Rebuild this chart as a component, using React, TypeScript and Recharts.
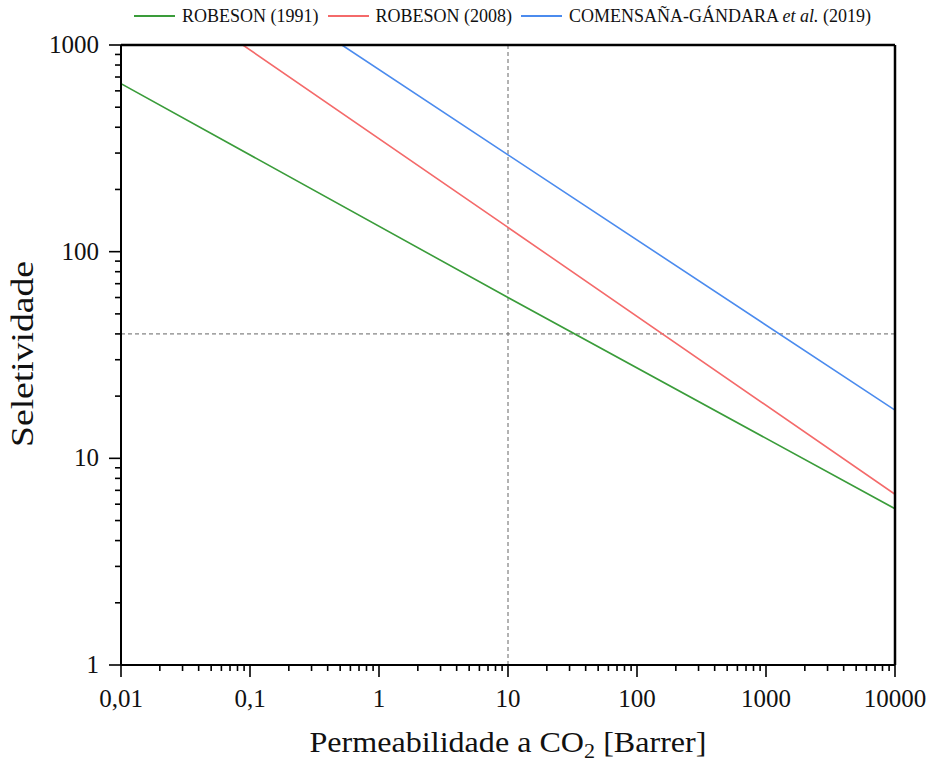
import React from 'react';
import { LineChart, Line, XAxis, YAxis, ReferenceLine } from 'recharts';

// upper bounds (CO2 permeability in Barrer, selectivity)
const robeson1991 = [
  { x: 0.01, y: 650 },
  { x: 10, y: 60 },
  { x: 10000, y: 5.7 },
];
const robeson2008 = [
  { x: 0.088, y: 1000 },
  { x: 10, y: 131 },
  { x: 10000, y: 6.7 },
];
const comensana2019 = [
  { x: 0.516, y: 1000 },
  { x: 10, y: 294 },
  { x: 10000, y: 17.1 },
];

const xMajor = [0.01, 0.1, 1, 10, 100, 1000, 10000];
const xLabels = ['0,01', '0,1', '1', '10', '100', '1000', '10000'];
const yMajor = [1, 10, 100, 1000];
const yLabels = ['1', '10', '100', '1000'];

const refX = 10;
const refY = 40;

const FONT = '"Liberation Serif", "Times New Roman", serif';
const GREEN = '#3a9c3a';
const RED = '#f46a6a';
const BLUE = '#4b8bee';

const minorTicks = (majors: number[]) => {
  const out: number[] = [];
  majors.forEach((m, i) => {
    out.push(m);
    if (i < majors.length - 1) {
      for (let k = 2; k <= 9; k++) out.push(+(m * k).toPrecision(3));
    }
  });
  return out;
};

const XTick = (props: any) => {
  const { x, y, payload } = props;
  const idx = xMajor.indexOf(payload.value);
  const major = idx >= 0;
  return (
    <g>
      <line x1={x} x2={x} y1={y} y2={y + (major ? 12 : 6)} stroke='#000' strokeWidth={1.6} />
      {major && (
        <text x={x} y={y + 42} textAnchor='middle' fontFamily={FONT} fontSize={25} fill='#111'>
          {xLabels[idx]}
        </text>
      )}
    </g>
  );
};

const YTick = (props: any) => {
  const { x, y, payload } = props;
  const idx = yMajor.indexOf(payload.value);
  const major = idx >= 0;
  return (
    <g>
      <line x1={x - (major ? 12 : 6)} x2={x} y1={y} y2={y} stroke='#000' strokeWidth={1.6} />
      {major && (
        <text x={x - 22} y={y + 8} textAnchor='end' fontFamily={FONT} fontSize={25} fill='#111'>
          {yLabels[idx]}
        </text>
      )}
    </g>
  );
};

const legendItems = [
  { label: <>ROBESON (1991)</>, color: GREEN },
  { label: <>ROBESON (2008)</>, color: RED },
  { label: <>COMENSAÑA-GÁNDARA <i>et al.</i> (2019)</>, color: BLUE },
];

export default function App() {
  return (
    <div style={{ position: 'absolute', left: 0, top: 0, width: 931, height: 767, background: '#fff' }}>
      <div
        style={{
          position: 'absolute',
          top: 5,
          left: 134,
          display: 'flex',
          alignItems: 'center',
          fontFamily: FONT,
          fontSize: 18,
          lineHeight: '22px',
          color: '#111',
          whiteSpace: 'nowrap',
        }}
      >
        {legendItems.map((it, i) => (
          <div key={i} style={{ display: 'flex', alignItems: 'center', marginRight: 9 }}>
            <span style={{ display: 'inline-block', width: 41, height: 2, background: it.color, marginRight: 7 }} />
            <span>{it.label}</span>
          </div>
        ))}
      </div>
      <LineChart width={931} height={767} margin={{ top: 45, right: 36, bottom: 42, left: 21 }}>
        <XAxis
          dataKey='x'
          type='number'
          scale='log'
          domain={[0.01, 10000]}
          allowDataOverflow
          ticks={minorTicks(xMajor)}
          interval={0}
          tickSize={0}
          tickMargin={0}
          tickLine={false}
          tick={<XTick />}
          height={60}
          axisLine={{ stroke: '#000', strokeWidth: 2 }}
          label={{
            content: (p: any) => {
              const vb = p.viewBox;
              return (
                <text
                  x={vb.x + vb.width / 2}
                  y={vb.y + 87}
                  textAnchor='middle'
                  fontFamily={FONT}
                  fontSize={29}
                  fill='#111'
                  textLength={397}
                  lengthAdjust='spacingAndGlyphs'
                >
                  Permeabilidade a CO<tspan dy={6} fontSize={20}>2</tspan>
                  <tspan dy={-6}> [Barrer]</tspan>
                </text>
              );
            },
          }}
        />
        <YAxis
          type='number'
          scale='log'
          domain={[1, 1000]}
          allowDataOverflow
          ticks={minorTicks(yMajor)}
          interval={0}
          tickSize={0}
          tickMargin={0}
          tickLine={false}
          tick={<YTick />}
          width={100}
          axisLine={{ stroke: '#000', strokeWidth: 2 }}
          label={{
            content: (p: any) => {
              const vb = p.viewBox;
              const cy = vb.y + vb.height / 2 - 1;
              return (
                <text
                  x={33}
                  y={cy}
                  transform={`rotate(-90 33 ${cy})`}
                  textAnchor='middle'
                  fontFamily={FONT}
                  fontSize={31}
                  fill='#111'
                  textLength={186}
                  lengthAdjust='spacingAndGlyphs'
                >
                  Seletividade
                </text>
              );
            },
          }}
        />
        <ReferenceLine x={refX} stroke='#666' strokeDasharray='4 3' strokeWidth={1} />
        <ReferenceLine y={refY} stroke='#666' strokeDasharray='4 3' strokeWidth={1} />
        <Line data={robeson1991} dataKey='y' stroke={GREEN} strokeWidth={1.6} dot={false} isAnimationActive={false} />
        <Line data={robeson2008} dataKey='y' stroke={RED} strokeWidth={1.6} dot={false} isAnimationActive={false} />
        <Line data={comensana2019} dataKey='y' stroke={BLUE} strokeWidth={1.6} dot={false} isAnimationActive={false} />
        <ReferenceLine y={1000} stroke='#000' strokeWidth={2.5} />
        <ReferenceLine x={10000} stroke='#000' strokeWidth={2.5} />
      </LineChart>
    </div>
  );
}
